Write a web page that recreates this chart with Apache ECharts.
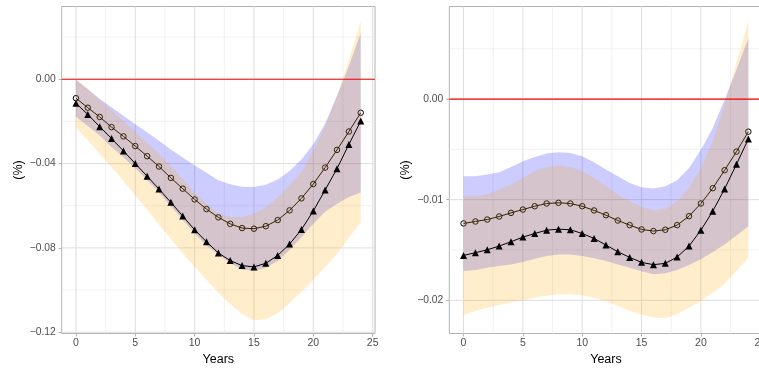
<!DOCTYPE html>
<html>
<head>
<meta charset="utf-8">
<script src="https://cdn.jsdelivr.net/npm/echarts@6.0.0/dist/echarts.min.js"></script>
<style>
  html, body { margin: 0; padding: 0; background: #fff; }
  #chart { width: 759px; height: 368px; }
</style>
</head>
<body>
<div id="chart"></div>
<script>
// x 值（年）
const years = [0, 1, 2, 3, 4, 5, 6, 7, 8, 9, 10, 11, 12, 13, 14, 15, 16, 17, 18, 19, 20, 21, 22, 23, 24];

// 左图
const leftCircle = [-0.0090, -0.0135, -0.0179, -0.0227, -0.0271, -0.0317, -0.0365, -0.0414, -0.0468, -0.0519, -0.0570, -0.0616, -0.0655, -0.0686, -0.0706, -0.0709, -0.0697, -0.0668, -0.0622, -0.0565, -0.0497, -0.0419, -0.0335, -0.0248, -0.0159];
const leftTriangle = [-0.0114, -0.0167, -0.0225, -0.0281, -0.0340, -0.0400, -0.0460, -0.0521, -0.0584, -0.0649, -0.0714, -0.0771, -0.0824, -0.0860, -0.0884, -0.0890, -0.0873, -0.0836, -0.0782, -0.0713, -0.0625, -0.0525, -0.0424, -0.0309, -0.0198];
const leftBlueHigh = [-0.0003, -0.0048, -0.0092, -0.0133, -0.0173, -0.0213, -0.0252, -0.0292, -0.0333, -0.0371, -0.0408, -0.0443, -0.0479, -0.0498, -0.0510, -0.0511, -0.0500, -0.0475, -0.0435, -0.0381, -0.0308, -0.0210, -0.0079, 0.0063, 0.0219];
const leftBlueLow = [-0.0178, -0.0222, -0.0267, -0.0321, -0.0370, -0.0422, -0.0478, -0.0537, -0.0603, -0.0667, -0.0732, -0.0789, -0.0832, -0.0873, -0.0903, -0.0908, -0.0894, -0.0862, -0.0810, -0.0749, -0.0686, -0.0629, -0.0590, -0.0559, -0.0537];
const leftOrangeHigh = [0.0000, -0.0044, -0.0098, -0.0146, -0.0197, -0.0249, -0.0302, -0.0352, -0.0410, -0.0473, -0.0540, -0.0590, -0.0637, -0.0654, -0.0654, -0.0638, -0.0608, -0.0562, -0.0502, -0.0440, -0.0337, -0.0225, -0.0075, 0.0092, 0.0275];
const leftOrangeLow = [-0.0229, -0.0289, -0.0352, -0.0416, -0.0483, -0.0551, -0.0619, -0.0689, -0.0759, -0.0825, -0.0889, -0.0952, -0.1011, -0.1067, -0.1114, -0.1143, -0.1138, -0.1111, -0.1063, -0.1008, -0.0952, -0.0892, -0.0829, -0.0752, -0.0678];

// 右图
const rightCircle = [-0.01236, -0.01217, -0.01197, -0.01167, -0.01131, -0.01098, -0.01065, -0.01038, -0.01031, -0.01038, -0.01065, -0.01107, -0.01154, -0.01207, -0.01253, -0.01296, -0.01312, -0.01299, -0.01253, -0.01164, -0.01038, -0.00886, -0.00707, -0.00522, -0.00324];
const rightTriangle = [-0.01554, -0.01527, -0.01498, -0.01461, -0.01418, -0.01372, -0.01336, -0.01303, -0.01293, -0.01299, -0.01336, -0.01385, -0.01451, -0.01517, -0.01574, -0.01623, -0.01646, -0.01633, -0.01570, -0.01461, -0.01303, -0.01114, -0.00893, -0.00648, -0.00397];
const rightBlueHigh = [-0.00767, -0.00767, -0.00750, -0.00727, -0.00674, -0.00618, -0.00575, -0.00542, -0.00529, -0.00536, -0.00569, -0.00628, -0.00701, -0.00767, -0.00833, -0.00876, -0.00889, -0.00866, -0.00807, -0.00684, -0.00503, -0.00288, -0.00007, 0.00291, 0.00605];
const rightBlueLow = [-0.01709, -0.01699, -0.01676, -0.01660, -0.01643, -0.01620, -0.01587, -0.01560, -0.01544, -0.01544, -0.01560, -0.01583, -0.01610, -0.01643, -0.01676, -0.01712, -0.01742, -0.01732, -0.01699, -0.01650, -0.01593, -0.01521, -0.01445, -0.01356, -0.01263];
const rightOrangeHigh = [-0.00965, -0.00965, -0.00949, -0.00899, -0.00850, -0.00784, -0.00717, -0.00674, -0.00661, -0.00674, -0.00717, -0.00784, -0.00866, -0.00949, -0.01015, -0.01071, -0.01104, -0.01091, -0.01015, -0.00883, -0.00684, -0.00420, -0.00056, 0.00357, 0.00770];
const rightOrangeLow = [-0.02149, -0.02106, -0.02073, -0.02046, -0.02023, -0.02000, -0.01974, -0.01954, -0.01941, -0.01941, -0.01951, -0.01974, -0.02007, -0.02057, -0.02106, -0.02142, -0.02172, -0.02179, -0.02139, -0.02073, -0.02007, -0.01924, -0.01832, -0.01709, -0.01577];

// 刻度
const xRange = [-1.2, 25.2];
const xTicks = [0, 5, 10, 15, 20, 25];
const xMinor = [2.5, 7.5, 12.5, 17.5, 22.5];
const leftYRange = [-0.1206, 0.0345];
const leftYTicks = [-0.12, -0.08, -0.04, 0];
const leftYLabels = ['−0.12', '−0.08', '−0.04', '0.00'];
const leftYMinor = [-0.10, -0.06, -0.02, 0.02];
const rightYRange = [-0.0233, 0.0092];
const rightYTicks = [-0.02, -0.01, 0];
const rightYLabels = ['−0.02', '−0.01', '0.00'];
const rightYMinor = [-0.015, -0.005, 0.005];
const refLine = 0;

const font = '"Liberation Sans", Arial, sans-serif';
const blueFill = 'rgba(0, 0, 255, 0.2)';
const orangeFill = 'rgba(255, 165, 0, 0.2)';

function pairs(ys) {
  return years.map((x, i) => [x, ys[i]]);
}

// 置信带：上界 + 反向下界 组成多边形
function band(idx, low, high, fill, z) {
  return {
    type: 'custom', xAxisIndex: idx, yAxisIndex: idx, z: z, silent: true,
    data: [[years[0], low[0]]],
    renderItem: function (params, api) {
      const upper = years.map((x, i) => api.coord([x, high[i]]));
      const lower = years.map((x, i) => api.coord([x, low[i]])).reverse();
      return {
        type: 'polygon',
        shape: { points: upper.concat(lower) },
        style: { fill: fill, stroke: null }
      };
    }
  };
}

// 网格线（主、次）
function gridLines(idx, yRange, yMajor, yMinor) {
  const major = { stroke: '#dedede', lineWidth: 1 };
  const minor = { stroke: '#ebebeb', lineWidth: 0.7 };
  return {
    type: 'custom', xAxisIndex: idx, yAxisIndex: idx, z: 0, silent: true,
    data: [[xRange[0], yRange[0]]],
    renderItem: function (params, api) {
      const kids = [];
      const vline = (v, st) => {
        const a = api.coord([v, yRange[0]]), b = api.coord([v, yRange[1]]);
        kids.push({ type: 'line', shape: { x1: a[0], y1: a[1], x2: b[0], y2: b[1] }, style: st });
      };
      const hline = (v, st) => {
        const a = api.coord([xRange[0], v]), b = api.coord([xRange[1], v]);
        kids.push({ type: 'line', shape: { x1: a[0], y1: a[1], x2: b[0], y2: b[1] }, style: st });
      };
      xMinor.forEach(v => vline(v, minor));
      yMinor.forEach(v => hline(v, minor));
      xTicks.forEach(v => vline(v, major));
      yMajor.forEach(v => hline(v, major));
      return { type: 'group', children: kids };
    }
  };
}

// 红色零线
function zeroLine(idx) {
  return {
    type: 'custom', xAxisIndex: idx, yAxisIndex: idx, z: 6, silent: true,
    data: [[xRange[0], refLine]],
    renderItem: function (params, api) {
      const a = api.coord([xRange[0], refLine]), b = api.coord([xRange[1], refLine]);
      return {
        type: 'line',
        shape: { x1: a[0], y1: a[1], x2: b[0], y2: b[1] },
        style: { stroke: '#ff0000', lineWidth: 1.2 }
      };
    }
  };
}

function circleLine(idx, ys) {
  return {
    type: 'line', xAxisIndex: idx, yAxisIndex: idx, z: 2,
    data: pairs(ys), symbol: 'circle', symbolSize: 5.5,
    lineStyle: { color: '#000', width: 1 },
    itemStyle: { color: 'rgba(0,0,0,0)', borderColor: '#000', borderWidth: 1 }
  };
}

function triangleLine(idx, ys) {
  return {
    type: 'line', xAxisIndex: idx, yAxisIndex: idx, z: 4,
    data: pairs(ys), symbol: 'triangle', symbolSize: 7,
    lineStyle: { color: '#000', width: 1 },
    itemStyle: { color: '#000' }
  };
}

function xAxis(idx) {
  return {
    gridIndex: idx, type: 'value', min: xRange[0], max: xRange[1],
    axisLine: { show: false, onZero: false },
    axisTick: { show: true, customValues: xTicks, length: 3, lineStyle: { color: '#b3b3b3' } },
    axisLabel: { customValues: xTicks, color: '#4d4d4d', fontSize: 10.5, margin: 4, fontFamily: font },
    splitLine: { show: false },
    name: 'Years', nameLocation: 'middle', nameGap: 18,
    nameTextStyle: { color: '#000', fontSize: 12.5, fontFamily: font }
  };
}

function yAxis(idx, range, ticks, labels) {
  return {
    gridIndex: idx, type: 'value', min: range[0], max: range[1],
    axisLine: { show: false, onZero: false },
    axisTick: { show: true, customValues: ticks, length: 3, lineStyle: { color: '#b3b3b3' } },
    axisLabel: {
      customValues: ticks, color: '#4d4d4d', fontSize: 10.3, margin: 6, fontFamily: font,
      formatter: function (v) {
        const i = ticks.findIndex(t => Math.abs(t - v) < 1e-9);
        return i >= 0 ? labels[i] : '';
      }
    },
    splitLine: { show: false },
    name: '(%)', nameLocation: 'middle', nameGap: 37,
    nameTextStyle: { color: '#000', fontSize: 12.5, fontFamily: font }
  };
}

let option = {
  animation: false,
  backgroundColor: '#fff',
  grid: [
    { left: 61.7, top: 6.5, width: 313.3, height: 327, outerBoundsMode: 'none', containLabel: false, show: true, borderColor: '#b3b3b3', borderWidth: 1, backgroundColor: 'transparent' },
    { left: 449.3, top: 6.5, width: 313.3, height: 327, outerBoundsMode: 'none', containLabel: false, show: true, borderColor: '#b3b3b3', borderWidth: 1, backgroundColor: 'transparent' }
  ],
  xAxis: [xAxis(0), xAxis(1)],
  yAxis: [
    yAxis(0, leftYRange, leftYTicks, leftYLabels),
    yAxis(1, rightYRange, rightYTicks, rightYLabels)
  ],
  series: [].concat(
    gridLines(0, leftYRange, leftYTicks, leftYMinor),
    band(0, leftBlueLow, leftBlueHigh, blueFill, 1),
    circleLine(0, leftCircle),
    band(0, leftOrangeLow, leftOrangeHigh, orangeFill, 3),
    triangleLine(0, leftTriangle),
    zeroLine(0),
    gridLines(1, rightYRange, rightYTicks, rightYMinor),
    band(1, rightBlueLow, rightBlueHigh, blueFill, 1),
    circleLine(1, rightCircle),
    band(1, rightOrangeLow, rightOrangeHigh, orangeFill, 3),
    triangleLine(1, rightTriangle),
    zeroLine(1)
  )
};

let myChart = echarts.init(document.getElementById('chart'), null, { renderer: 'canvas' });
myChart.setOption(option);
</script>
</body>
</html>
